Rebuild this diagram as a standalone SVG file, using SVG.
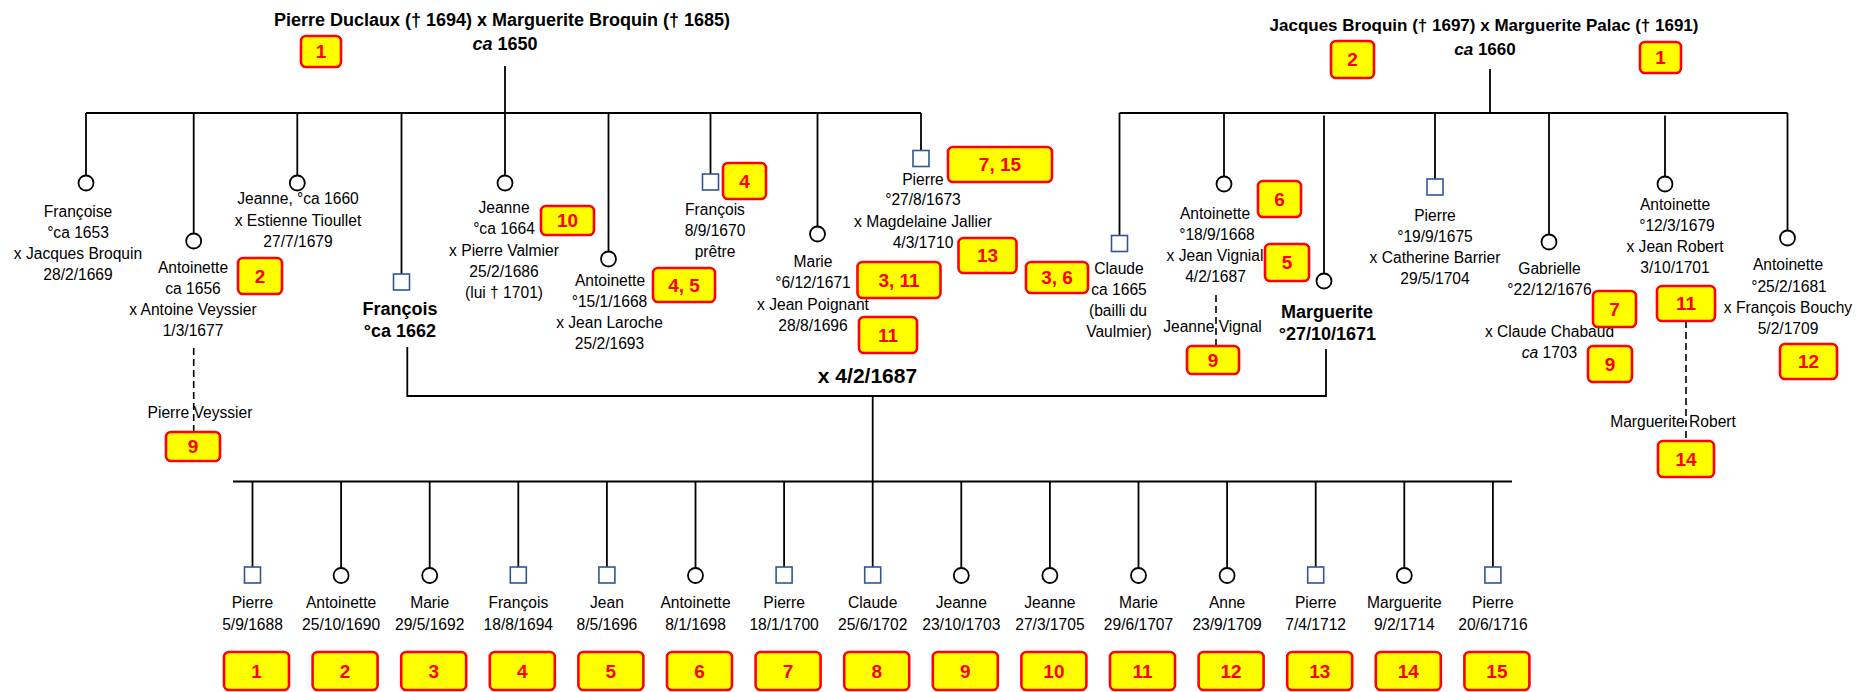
<svg xmlns="http://www.w3.org/2000/svg" width="1867" height="692" viewBox="0 0 1867 692">
<style>
.ln{stroke:#000;stroke-width:1.8;fill:none}
.ds{stroke:#000;stroke-width:1.6;fill:none;stroke-dasharray:7 4}
.c{fill:#fff;stroke:#000;stroke-width:1.8}
.s{fill:#fff;stroke:#2F5597;stroke-width:1.6}
.t{font-family:"Liberation Sans",Arial,sans-serif;font-size:15.6px;text-anchor:middle;fill:#000}
.h{font-family:"Liberation Sans",Arial,sans-serif;font-weight:bold;text-anchor:middle;fill:#000}
.bx{fill:#FFFF00;stroke:#FF0000;stroke-width:2.6}
.bt{font-family:"Liberation Sans",Arial,sans-serif;font-size:19px;font-weight:bold;fill:#FF0000;text-anchor:middle}
</style>
<rect width="1867" height="692" fill="#fff"/>

<g id="connectors">
  <path class="ln" d="M505 66V113M86 113H921"/>
  <path class="ln" d="M86 113V175.5M193.7 113V233.5M297.3 113V175.5M401.5 113V274M505 113V175.5M608.5 113V251.5M710.5 113V174M817.5 113V226.5M921 113V150.5"/>
  <path class="ln" d="M1490 69V113M1119.5 113H1787.5"/>
  <path class="ln" d="M1119.5 113V235.5M1224 113V176.5M1324 115.5V273M1435 113V179M1549 113V234.5M1665 115.5V176.5M1787.5 113V230.5"/>
  <path class="ln" d="M407.3 347V396H1326V349M872.7 396V481.5M233 481.5H1512"/>
  <path class="ln" d="M252.5 481.5V567M341.1 481.5V568M429.7 481.5V568M518.3 481.5V567M606.9 481.5V567M695.5 481.5V568M784.1 481.5V567M872.7 481.5V567M961.3 481.5V568M1049.9 481.5V568M1138.5 481.5V568M1227.1 481.5V568M1315.7 481.5V567M1404.3 481.5V568M1492.9 481.5V567"/>
  <path class="ds" d="M193.7 348V432M1216 295V346M1686 321V441"/>
</g>

<g id="couple-duclaux">
  <text class="h" x="502" y="26" font-size="18">Pierre Duclaux († 1694) x Marguerite Broquin († 1685)</text>
  <text class="h" x="505" y="50" font-size="18"><tspan font-style="italic">ca</tspan> 1650</text>
</g>
<g id="couple-broquin">
  <text class="h" x="1484" y="30.5" font-size="17">Jacques Broquin († 1697) x Marguerite Palac († 1691)</text>
  <text class="h" x="1485" y="55" font-size="17"><tspan font-style="italic">ca</tspan> 1660</text>
</g>

<g id="n-francoise">
  <circle class="c" cx="86" cy="183" r="7.5"/>
  <text class="t" x="78" y="216.5">Françoise</text>
  <text class="t" x="78" y="237.5">°ca 1653</text>
  <text class="t" x="78" y="258.5">x Jacques Broquin</text>
  <text class="t" x="78" y="279.5">28/2/1669</text>
</g>
<g id="n-antoinette-1656">
  <circle class="c" cx="193.7" cy="241" r="7.5"/>
  <text class="t" x="193" y="272.5">Antoinette</text>
  <text class="t" x="193" y="293.5">ca 1656</text>
  <text class="t" x="193" y="314.5">x Antoine Veyssier</text>
  <text class="t" x="193" y="335.5">1/3/1677</text>
</g>
<g id="n-pierre-veyssier">
  <text class="t" x="200" y="418">Pierre Veyssier</text>
</g>
<g id="n-jeanne-1660">
  <circle class="c" cx="297.3" cy="183" r="7.5"/>
  <text class="t" x="298" y="204">Jeanne, °ca 1660</text>
  <text class="t" x="298" y="225.5">x Estienne Tioullet</text>
  <text class="t" x="298" y="247">27/7/1679</text>
</g>
<g id="n-francois-1662">
  <rect class="s" x="393.5" y="274" width="16" height="16"/>
  <text class="h" x="400" y="315" font-size="18">François</text>
  <text class="h" x="400" y="336.5" font-size="18">°ca 1662</text>
</g>
<g id="n-jeanne-1664">
  <circle class="c" cx="505" cy="183" r="7.5"/>
  <text class="t" x="504" y="212.5">Jeanne</text>
  <text class="t" x="504" y="233.5">°ca 1664</text>
  <text class="t" x="504" y="255.5">x Pierre Valmier</text>
  <text class="t" x="504" y="276.5">25/2/1686</text>
  <text class="t" x="504" y="298">(lui † 1701)</text>
</g>
<g id="n-antoinette-1668">
  <circle class="c" cx="608.5" cy="259" r="7.5"/>
  <text class="t" x="610" y="286">Antoinette</text>
  <text class="t" x="609.5" y="306.5">°15/1/1668</text>
  <text class="t" x="609.5" y="327.5">x Jean Laroche</text>
  <text class="t" x="609.5" y="348.5">25/2/1693</text>
</g>
<g id="n-francois-1670">
  <rect class="s" x="702.5" y="174" width="16" height="16"/>
  <text class="t" x="715" y="215">François</text>
  <text class="t" x="715" y="236">8/9/1670</text>
  <text class="t" x="715" y="257">prêtre</text>
</g>
<g id="n-marie-1671">
  <circle class="c" cx="817.5" cy="234" r="7.5"/>
  <text class="t" x="813" y="266.5">Marie</text>
  <text class="t" x="813" y="288">°6/12/1671</text>
  <text class="t" x="813" y="309.5">x Jean Poignant</text>
  <text class="t" x="813" y="330.5">28/8/1696</text>
</g>
<g id="n-pierre-1673">
  <rect class="s" x="913" y="150.5" width="16" height="16"/>
  <text class="t" x="923" y="185">Pierre</text>
  <text class="t" x="923" y="205">°27/8/1673</text>
  <text class="t" x="923" y="226.5">x Magdelaine Jallier</text>
  <text class="t" x="923" y="247.5">4/3/1710</text>
</g>
<g id="n-mariage">
  <text class="h" x="867.5" y="382.5" font-size="21">x 4/2/1687</text>
</g>

<g id="n-claude-1665">
  <rect class="s" x="1111.5" y="235.5" width="16" height="16"/>
  <text class="t" x="1119" y="273.5">Claude</text>
  <text class="t" x="1119" y="295">ca 1665</text>
  <text class="t" x="1118" y="316">(bailli du</text>
  <text class="t" x="1119" y="337">Vaulmier)</text>
</g>
<g id="n-antoinette-1668b">
  <circle class="c" cx="1224" cy="184" r="7.5"/>
  <text class="t" x="1215" y="218.5">Antoinette</text>
  <text class="t" x="1217" y="240">°18/9/1668</text>
  <text class="t" x="1215" y="261">x Jean Vignial</text>
  <text class="t" x="1215.5" y="282">4/2/1687</text>
</g>
<g id="n-jeanne-vignal">
  <text class="t" x="1212.5" y="331.5">Jeanne Vignal</text>
</g>
<g id="n-marguerite-1671">
  <circle class="c" cx="1324" cy="281" r="7.5"/>
  <text class="h" x="1327" y="317.5" font-size="18">Marguerite</text>
  <text class="h" x="1327.5" y="340" font-size="18">°27/10/1671</text>
</g>
<g id="n-pierre-1675">
  <rect class="s" x="1427" y="179" width="16" height="16"/>
  <text class="t" x="1435" y="221">Pierre</text>
  <text class="t" x="1435" y="242">°19/9/1675</text>
  <text class="t" x="1435" y="263">x Catherine Barrier</text>
  <text class="t" x="1435" y="284">29/5/1704</text>
</g>
<g id="n-gabrielle">
  <circle class="c" cx="1549" cy="242" r="7.5"/>
  <text class="t" x="1549.5" y="273.5">Gabrielle</text>
  <text class="t" x="1549.5" y="294.5">°22/12/1676</text>
  <text class="t" x="1549.5" y="337">x Claude Chabaud</text>
  <text class="t" x="1549.5" y="358"><tspan font-style="italic">ca</tspan> 1703</text>
</g>
<g id="n-antoinette-1679">
  <circle class="c" cx="1665" cy="184" r="7.5"/>
  <text class="t" x="1675" y="210">Antoinette</text>
  <text class="t" x="1677" y="231">°12/3/1679</text>
  <text class="t" x="1675" y="252">x Jean Robert</text>
  <text class="t" x="1675" y="273">3/10/1701</text>
</g>
<g id="n-marguerite-robert">
  <text class="t" x="1673" y="426.5">Marguerite Robert</text>
</g>
<g id="n-antoinette-1681">
  <circle class="c" cx="1787.5" cy="238" r="7.5"/>
  <text class="t" x="1788" y="270">Antoinette</text>
  <text class="t" x="1789" y="291.5">°25/2/1681</text>
  <text class="t" x="1788" y="313">x François Bouchy</text>
  <text class="t" x="1788" y="333.5">5/2/1709</text>
</g>

<g id="c01"><rect class="s" x="244.5" y="567" width="16" height="16"/><text class="t" x="252.5" y="607.5">Pierre</text><text class="t" x="252.5" y="630">5/9/1688</text></g>
<g id="c02"><circle class="c" cx="341.1" cy="575.5" r="7.5"/><text class="t" x="341.1" y="607.5">Antoinette</text><text class="t" x="341.1" y="630">25/10/1690</text></g>
<g id="c03"><circle class="c" cx="429.7" cy="575.5" r="7.5"/><text class="t" x="429.7" y="607.5">Marie</text><text class="t" x="429.7" y="630">29/5/1692</text></g>
<g id="c04"><rect class="s" x="510.3" y="567" width="16" height="16"/><text class="t" x="518.3" y="607.5">François</text><text class="t" x="518.3" y="630">18/8/1694</text></g>
<g id="c05"><rect class="s" x="598.9" y="567" width="16" height="16"/><text class="t" x="606.9" y="607.5">Jean</text><text class="t" x="606.9" y="630">8/5/1696</text></g>
<g id="c06"><circle class="c" cx="695.5" cy="575.5" r="7.5"/><text class="t" x="695.5" y="607.5">Antoinette</text><text class="t" x="695.5" y="630">8/1/1698</text></g>
<g id="c07"><rect class="s" x="776.1" y="567" width="16" height="16"/><text class="t" x="784.1" y="607.5">Pierre</text><text class="t" x="784.1" y="630">18/1/1700</text></g>
<g id="c08"><rect class="s" x="864.7" y="567" width="16" height="16"/><text class="t" x="872.7" y="607.5">Claude</text><text class="t" x="872.7" y="630">25/6/1702</text></g>
<g id="c09"><circle class="c" cx="961.3" cy="575.5" r="7.5"/><text class="t" x="961.3" y="607.5">Jeanne</text><text class="t" x="961.3" y="630">23/10/1703</text></g>
<g id="c10"><circle class="c" cx="1049.9" cy="575.5" r="7.5"/><text class="t" x="1049.9" y="607.5">Jeanne</text><text class="t" x="1049.9" y="630">27/3/1705</text></g>
<g id="c11"><circle class="c" cx="1138.5" cy="575.5" r="7.5"/><text class="t" x="1138.5" y="607.5">Marie</text><text class="t" x="1138.5" y="630">29/6/1707</text></g>
<g id="c12"><circle class="c" cx="1227.1" cy="575.5" r="7.5"/><text class="t" x="1227.1" y="607.5">Anne</text><text class="t" x="1227.1" y="630">23/9/1709</text></g>
<g id="c13"><rect class="s" x="1307.7" y="567" width="16" height="16"/><text class="t" x="1315.7" y="607.5">Pierre</text><text class="t" x="1315.7" y="630">7/4/1712</text></g>
<g id="c14"><circle class="c" cx="1404.3" cy="575.5" r="7.5"/><text class="t" x="1404.3" y="607.5">Marguerite</text><text class="t" x="1404.3" y="630">9/2/1714</text></g>
<g id="c15"><rect class="s" x="1484.9" y="567" width="16" height="16"/><text class="t" x="1492.9" y="607.5">Pierre</text><text class="t" x="1492.9" y="630">20/6/1716</text></g>

<g id="badges-bottom">
  <g id="bb01"><rect class="bx" x="224" y="652" width="65" height="38" rx="5"/><text class="bt" x="256.5" y="678">1</text></g>
  <g id="bb02"><rect class="bx" x="312.6" y="652" width="65" height="38" rx="5"/><text class="bt" x="345.1" y="678">2</text></g>
  <g id="bb03"><rect class="bx" x="401.2" y="652" width="65" height="38" rx="5"/><text class="bt" x="433.7" y="678">3</text></g>
  <g id="bb04"><rect class="bx" x="489.8" y="652" width="65" height="38" rx="5"/><text class="bt" x="522.3" y="678">4</text></g>
  <g id="bb05"><rect class="bx" x="578.4" y="652" width="65" height="38" rx="5"/><text class="bt" x="610.9" y="678">5</text></g>
  <g id="bb06"><rect class="bx" x="667" y="652" width="65" height="38" rx="5"/><text class="bt" x="699.5" y="678">6</text></g>
  <g id="bb07"><rect class="bx" x="755.6" y="652" width="65" height="38" rx="5"/><text class="bt" x="788.1" y="678">7</text></g>
  <g id="bb08"><rect class="bx" x="844.2" y="652" width="65" height="38" rx="5"/><text class="bt" x="876.7" y="678">8</text></g>
  <g id="bb09"><rect class="bx" x="932.8" y="652" width="65" height="38" rx="5"/><text class="bt" x="965.3" y="678">9</text></g>
  <g id="bb10"><rect class="bx" x="1021.4" y="652" width="65" height="38" rx="5"/><text class="bt" x="1053.9" y="678">10</text></g>
  <g id="bb11"><rect class="bx" x="1110" y="652" width="65" height="38" rx="5"/><text class="bt" x="1142.5" y="678">11</text></g>
  <g id="bb12"><rect class="bx" x="1198.6" y="652" width="65" height="38" rx="5"/><text class="bt" x="1231.1" y="678">12</text></g>
  <g id="bb13"><rect class="bx" x="1287.2" y="652" width="65" height="38" rx="5"/><text class="bt" x="1319.7" y="678">13</text></g>
  <g id="bb14"><rect class="bx" x="1375.8" y="652" width="65" height="38" rx="5"/><text class="bt" x="1408.3" y="678">14</text></g>
  <g id="bb15"><rect class="bx" x="1464.4" y="652" width="65" height="38" rx="5"/><text class="bt" x="1496.9" y="678">15</text></g>
</g>

<g id="badges-top">
  <g id="bt-duclaux"><rect class="bx" x="301" y="36" width="40" height="31" rx="5"/><text class="bt" x="321" y="58">1</text></g>
  <g id="bt-broquin"><rect class="bx" x="1331" y="41" width="43" height="37" rx="5"/><text class="bt" x="1352.5" y="66">2</text></g>
  <g id="bt-palac"><rect class="bx" x="1640" y="42" width="41" height="31" rx="5"/><text class="bt" x="1660.5" y="64">1</text></g>
  <g id="bt-antoinette1656"><rect class="bx" x="238" y="258" width="44" height="36" rx="5"/><text class="bt" x="260" y="282.5">2</text></g>
  <g id="bt-veyssier"><rect class="bx" x="166" y="432" width="54" height="29" rx="5"/><text class="bt" x="193" y="453">9</text></g>
  <g id="bt-jeanne1664"><rect class="bx" x="541" y="206" width="53" height="29" rx="5"/><text class="bt" x="567.5" y="227">10</text></g>
  <g id="bt-antoinette1668"><rect class="bx" x="653" y="268" width="62" height="34" rx="5"/><text class="bt" x="684" y="291.5">4, 5</text></g>
  <g id="bt-francois1670"><rect class="bx" x="723" y="163" width="43" height="36" rx="5"/><text class="bt" x="744.5" y="187.5">4</text></g>
  <g id="bt-marie-a"><rect class="bx" x="857.5" y="262" width="83" height="36" rx="5"/><text class="bt" x="899" y="286.5">3, 11</text></g>
  <g id="bt-marie-b"><rect class="bx" x="859" y="317" width="58" height="36" rx="5"/><text class="bt" x="888" y="341.5">11</text></g>
  <g id="bt-pierre1673"><rect class="bx" x="948" y="147" width="104" height="35" rx="5"/><text class="bt" x="1000" y="171">7, 15</text></g>
  <g id="bt-pierre1673b"><rect class="bx" x="958.5" y="238" width="58" height="35" rx="5"/><text class="bt" x="987.5" y="262">13</text></g>
  <g id="bt-claude"><rect class="bx" x="1026" y="262" width="62" height="31" rx="5"/><text class="bt" x="1057" y="284">3, 6</text></g>
  <g id="bt-antoinette-a"><rect class="bx" x="1258" y="181" width="43" height="36" rx="5"/><text class="bt" x="1279.5" y="205.5">6</text></g>
  <g id="bt-antoinette-b"><rect class="bx" x="1265" y="244" width="44" height="37" rx="5"/><text class="bt" x="1287" y="269">5</text></g>
  <g id="bt-vignal"><rect class="bx" x="1187" y="346" width="52" height="28" rx="5"/><text class="bt" x="1213" y="366.5">9</text></g>
  <g id="bt-gabrielle-a"><rect class="bx" x="1593" y="291" width="43" height="36" rx="5"/><text class="bt" x="1614.5" y="315.5">7</text></g>
  <g id="bt-gabrielle-b"><rect class="bx" x="1588" y="346" width="44" height="36" rx="5"/><text class="bt" x="1610" y="370.5">9</text></g>
  <g id="bt-robert-a"><rect class="bx" x="1657" y="286" width="58" height="35" rx="5"/><text class="bt" x="1686" y="310">11</text></g>
  <g id="bt-robert-b"><rect class="bx" x="1658" y="441" width="56" height="36" rx="5"/><text class="bt" x="1686" y="465.5">14</text></g>
  <g id="bt-antoinette1681"><rect class="bx" x="1780" y="344" width="57" height="35" rx="5"/><text class="bt" x="1808.5" y="368">12</text></g>
</g>
</svg>
